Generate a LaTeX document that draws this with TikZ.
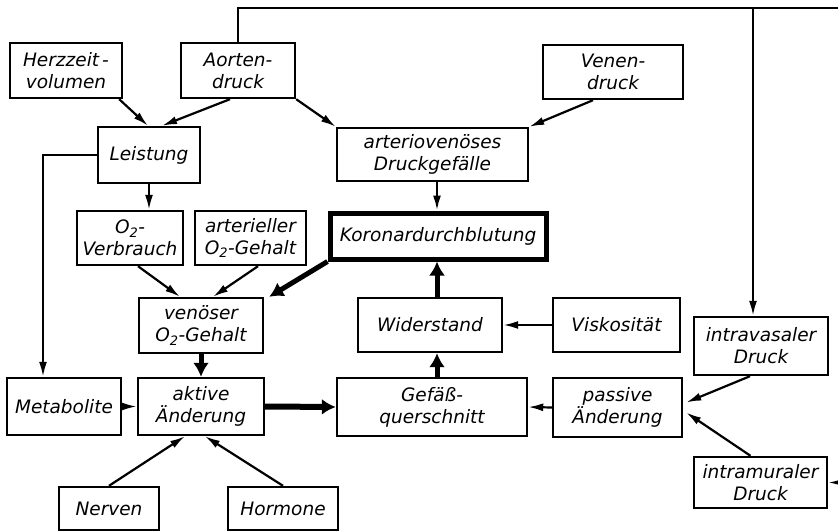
\documentclass[tikz,border=0pt]{standalone}
\usepackage{fontspec}
\setmainfont{DejaVu Sans}
\usetikzlibrary{arrows.meta}

\begin{document}
\begin{tikzpicture}[x=1pt,y=-1pt,
    box/.style={draw,line width=2.4pt,inner sep=0pt,align=center,
      font=\fontsize{18.5}{22}\selectfont\itshape},
    arr/.style={line width=2.2pt,-{Latex[length=15pt,width=8pt]}},
    bigarr/.style={line width=5pt,-{Latex[length=14pt,width=16pt]}}]
  \useasboundingbox (0,0) rectangle (838,532);
  \node[box,minimum width=112pt,minimum height=55pt] (herz) at (66,70.5) {Herzzeit\,-\\volumen};
  \node[box,minimum width=114pt,minimum height=55pt] (aorta) at (238,70.5) {Aorten-\\druck};
  \node[box,minimum width=140pt,minimum height=54pt] (venen) at (613,72) {Venen-\\druck};
  \node[box,minimum width=102pt,minimum height=56pt] (leist) at (149,155) {Leistung};
  \node[box,minimum width=191pt,minimum height=53pt] (avdruck) at (432.5,154.5) {arteriovenöses\\Druckgefälle};
  \node[box,minimum width=106pt,minimum height=54pt] (o2verb) at (130,238) {O\textsubscript{2}-\\Verbrauch};
  \node[box,minimum width=111pt,minimum height=54pt] (arto2) at (250.5,238) {arterieller\\O\textsubscript{2}-Gehalt};
  \node[box,line width=5pt,minimum width=216pt,minimum height=46pt] (koronar) at (438,236) {Koronardurchblutung};
  \node[box,minimum width=124pt,minimum height=55pt] (veno2) at (201,325.5) {venöser\\O\textsubscript{2}-Gehalt};
  \node[box,minimum width=144pt,minimum height=54pt] (wider) at (430,325) {Widerstand};
  \node[box,minimum width=127pt,minimum height=54pt] (visk) at (616.5,325) {Viskosität};
  \node[box,minimum width=134pt,minimum height=58pt] (intravas) at (761,346) {intravasaler\\Druck};
  \node[box,minimum width=114pt,minimum height=57pt] (metab) at (64,406.5) {Metabolite};
  \node[box,minimum width=126pt,minimum height=57pt] (aktiv) at (201,406.5) {aktive\\Änderung};
  \node[box,minimum width=190pt,minimum height=58pt] (gefaess) at (432,407) {Gefäß-\\querschnitt};
  \node[box,minimum width=129pt,minimum height=59pt] (passiv) at (617.5,407.5) {passive\\Änderung};
  \node[box,minimum width=133pt,minimum height=51pt] (intramur) at (760.5,482.5) {intramuraler\\Druck};
  \node[box,minimum width=100pt,minimum height=43pt] (nerven) at (109,508.5) {Nerven};
  \node[box,minimum width=110pt,minimum height=43pt] (hormone) at (283,508.5) {Hormone};
  \coordinate (tap) at (753,8);
  \coordinate (edge) at (846,8);
  \draw[arr] ([xshift=-4pt]herz.south east) -- ([xshift=-1pt]leist.north);
  \draw[arr] ([xshift=-8pt]aorta.south) -- ([xshift=13pt]leist.north);
  \draw[arr] (aorta.south east) -- (avdruck.north west);
  \draw[arr] ([xshift=-20pt]venen.south) -- (avdruck.north east);
  \draw[arr] ([xshift=4.5pt]avdruck.south) -- ([xshift=4.5pt]avdruck.south |- koronar.north);
  \draw[arr] (leist.west) -| ([xshift=-21pt]metab.north);
  \draw[arr] (leist.south) -- (leist.south |- o2verb.north);
  \draw[arr] ([xshift=8pt]o2verb.south) -- ([xshift=-21pt]veno2.north);
  \draw[arr] ([xshift=7.5pt]arto2.south) -- ([xshift=12pt]veno2.north);
  \draw[bigarr] (koronar.south west) -- ([xshift=5pt]veno2.north east);
  \draw[bigarr] (veno2.south) -- (aktiv.north);
  \draw[bigarr] ([xshift=7pt]wider.north) -- ([xshift=7pt]wider.north |- koronar.south);
  \draw[arr] (visk.west) -- (wider.east);
  \draw[bigarr] ([xshift=5pt]gefaess.north) -- ([xshift=5pt]gefaess.north |- wider.south);
  \draw[bigarr,line width=6pt] (aktiv.east) -- (gefaess.west);
  \draw[arr] (metab.east) -- (aktiv.west);
  \draw[arr] (passiv.west) -- (gefaess.east);
  \draw[arr] ([xshift=-11pt]intravas.south) -- ([yshift=5pt,xshift=3pt]passiv.east);
  \draw[arr] ([xshift=-10pt]intramur.north) -- ([yshift=-5pt,xshift=3pt]passiv.east);
  \draw[arr] (nerven.north) -- ([xshift=-16pt]aktiv.south);
  \draw[arr] (hormone.north) -- ([xshift=4pt]aktiv.south);
  \draw[arr] (aorta.north) |- (edge) |- (intramur.east);
  \draw[arr] (tap) -- (tap |- intravas.north);
\end{tikzpicture}
\end{document}
